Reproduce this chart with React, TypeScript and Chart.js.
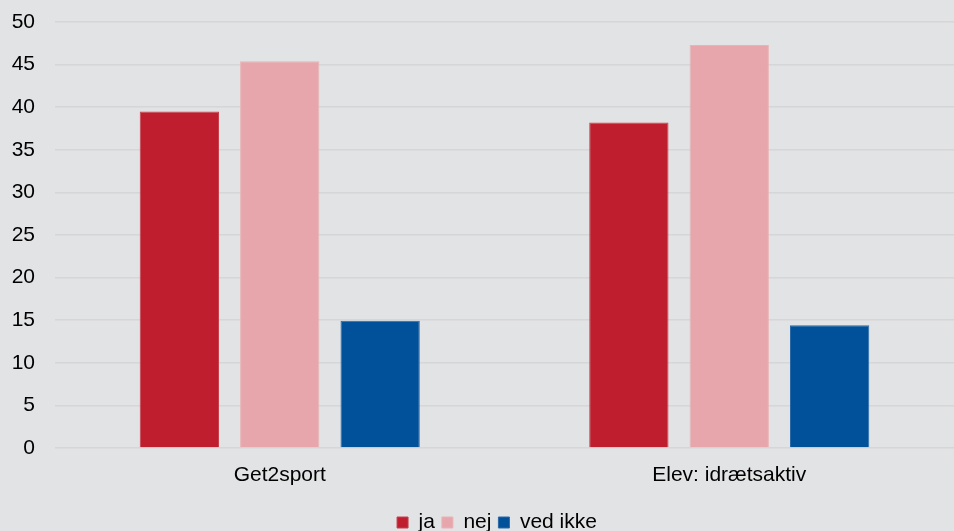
import React, { useEffect, useRef } from "react";
import { Chart, registerables } from "chart.js";

Chart.register(...registerables);

const categories = ["Get2sport", "Elev: idrætsaktiv"];
const seriesNames = ["ja", "nej", "ved ikke"];
const jaValues = [39.5, 38.2];
const nejValues = [45.4, 47.3];
const vedIkkeValues = [14.95, 14.4];
const yTicks = { min: 0, max: 50, step: 5 };

const colors = ["#be1e2d", "#e6a6ab", "#00509a"];
const borderColors = ["#c9404d", "#eab2b6", "#2a6aa8"];
const FONT = "'Liberation Sans', Arial, sans-serif";

const unclipYLabels = {
  id: "unclipYLabels",
  afterLayout(chart: any) {
    const y = chart.scales.y;
    if (y) y.left = 0;
  },
};

export default function App() {
  const ref = useRef<HTMLCanvasElement>(null);
  useEffect(() => {
    document.body.style.margin = "0";
    const ctx = ref.current!;
    const values = [jaValues, nejValues, vedIkkeValues];
    const chart = new Chart(ctx, {
      type: "bar",
      data: {
        labels: categories,
        datasets: seriesNames.map((name, i) => ({
          label: name,
          data: values[i],
          backgroundColor: colors[i],
          borderColor: borderColors[i],
          borderWidth: 1,
          categoryPercentage: 0.67,
          barPercentage: 0.79,
        })),
      },
      plugins: [unclipYLabels],
      options: {
        animation: false,
        responsive: false,
        maintainAspectRatio: false,
        layout: { padding: { top: 22, left: 40, right: 0, bottom: -12 } },
        font: { family: FONT, size: 21 },
        plugins: {
          tooltip: { enabled: false },
          legend: {
            position: "bottom",
            labels: {
              color: "#000",
              boxWidth: 11,
              boxHeight: 11,
              padding: 7,
              font: { family: FONT, size: 21 },
            },
          },
        },
        scales: {
          x: {
            grid: { display: false, drawTicks: false },
            border: { display: false },
            ticks: {
              color: "#000",
              padding: 15,
              font: { family: FONT, size: 21 },
            },
            afterFit: (scale: any) => {
              scale.height = 57;
              scale.paddingLeft = 0;
              scale.paddingRight = 0;
            },
          },
          y: {
            min: yTicks.min,
            max: yTicks.max,
            grid: { color: "#d5d6d8", lineWidth: 1.5, drawTicks: false },
            border: { display: false },
            ticks: {
              stepSize: yTicks.step,
              color: "#000",
              padding: 20,
              font: { family: FONT, size: 21 },
            },
            afterFit: (scale: any) => {
              scale.width = 15;
              scale.paddingTop = 0;
              scale.paddingBottom = 0;
            },
          },
        },
      },
    });
    return () => chart.destroy();
  }, []);
  return (
    <div style={{ width: 954, height: 531, background: "#e2e3e5" }}>
      <canvas ref={ref} width={954} height={531} />
    </div>
  );
}
